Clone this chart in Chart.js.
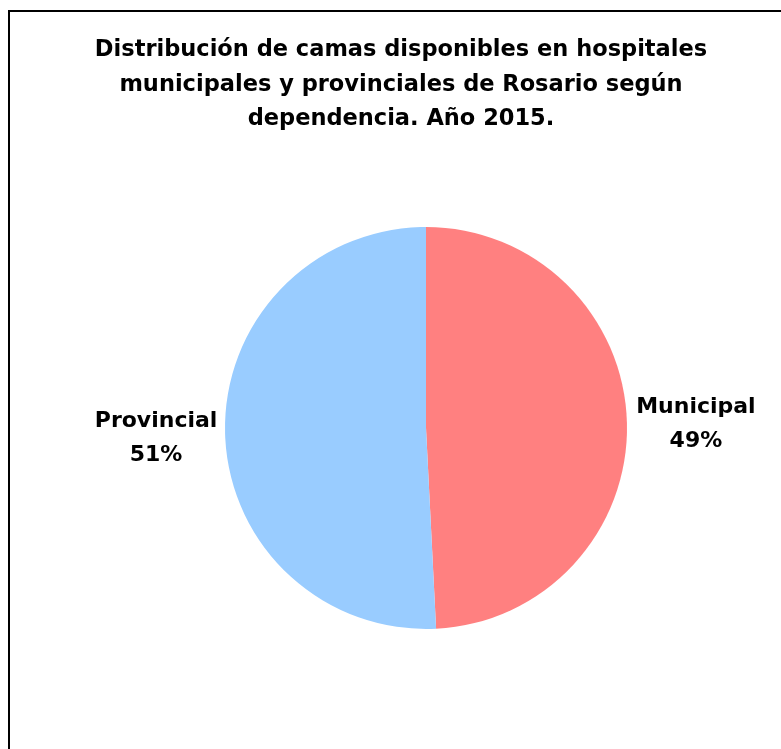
<!DOCTYPE html>
<html>
<head>
<meta charset="utf-8">
<script src="https://cdn.jsdelivr.net/npm/chart.js@4.4.0/dist/chart.umd.min.js"></script>
<style>
  body { margin: 0; background: #fff; overflow: hidden; }
  #frame { position: absolute; left: 8px; top: 10px; width: 900px; height: 900px; border: 2px solid #000; }
  #wrap { position: absolute; left: 0; top: 0; width: 781px; height: 749px; }
</style>
</head>
<body>
<div id="frame"></div>
<div id="wrap"><canvas id="pie-chart" width="781" height="749"></canvas></div>
<script>
var categories = ["Municipal", "Provincial"];
var shareValues = [49.2, 50.8];   // labelled as rounded %
var sliceColors = ["#FF8080", "#99CCFF"];
var titleLines = [
  "Distribución de camas disponibles en hospitales",
  "municipales y provinciales de Rosario según",
  "dependencia. Año 2015."
];

// title drawn on the canvas, centred on the plot frame rather than the pie
var titlePlugin = {
  id: 'titleLines',
  afterDraw: function(chart) {
    var ctx = chart.ctx;
    ctx.save();
    ctx.font = 'bold 22.5px "DejaVu Sans"';
    ctx.fillStyle = '#000';
    ctx.textAlign = 'center';
    ctx.textBaseline = 'alphabetic';
    titleLines.forEach(function(line, i) {
      ctx.fillText(line, 401, 56 + i * 34.5);
    });
    ctx.restore();
  }
};

// category name + percent outside each slice
var outsideLabels = {
  id: 'outsideLabels',
  afterDatasetsDraw: function(chart) {
    var ctx = chart.ctx;
    var meta = chart.getDatasetMeta(0);
    var total = shareValues.reduce(function(a, b) { return a + b; }, 0);
    ctx.save();
    ctx.font = 'bold 22px "DejaVu Sans"';
    ctx.fillStyle = '#000';
    ctx.textAlign = 'center';
    ctx.textBaseline = 'alphabetic';
    meta.data.forEach(function(arc, i) {
      var p = arc.getProps(['x', 'y', 'startAngle', 'endAngle', 'outerRadius'], true);
      var mid = (p.startAngle + p.endAngle) / 2;
      var d = p.outerRadius + 69;
      var x = p.x + Math.cos(mid) * d;
      var y = p.y + Math.sin(mid) * d;
      ctx.fillText(categories[i], x, y - 8);
      ctx.fillText(Math.round(shareValues[i] / total * 100) + '%', x, y + 26);
    });
    ctx.restore();
  }
};

var ctx = document.getElementById("pie-chart");
window.myPie = new Chart(ctx, {
  type: 'pie',
  data: {
    labels: categories,
    datasets: [{
      data: shareValues,
      backgroundColor: sliceColors,
      borderWidth: 0
    }]
  },
  options: {
    responsive: false,
    animation: false,
    layout: {
      padding: { left: 225, right: 154, top: 227, bottom: 120 }
    },
    plugins: {
      legend: { display: false },
      title: { display: false },
      tooltip: { enabled: false }
    }
  },
  plugins: [titlePlugin, outsideLabels]
});
</script>
</body>
</html>
